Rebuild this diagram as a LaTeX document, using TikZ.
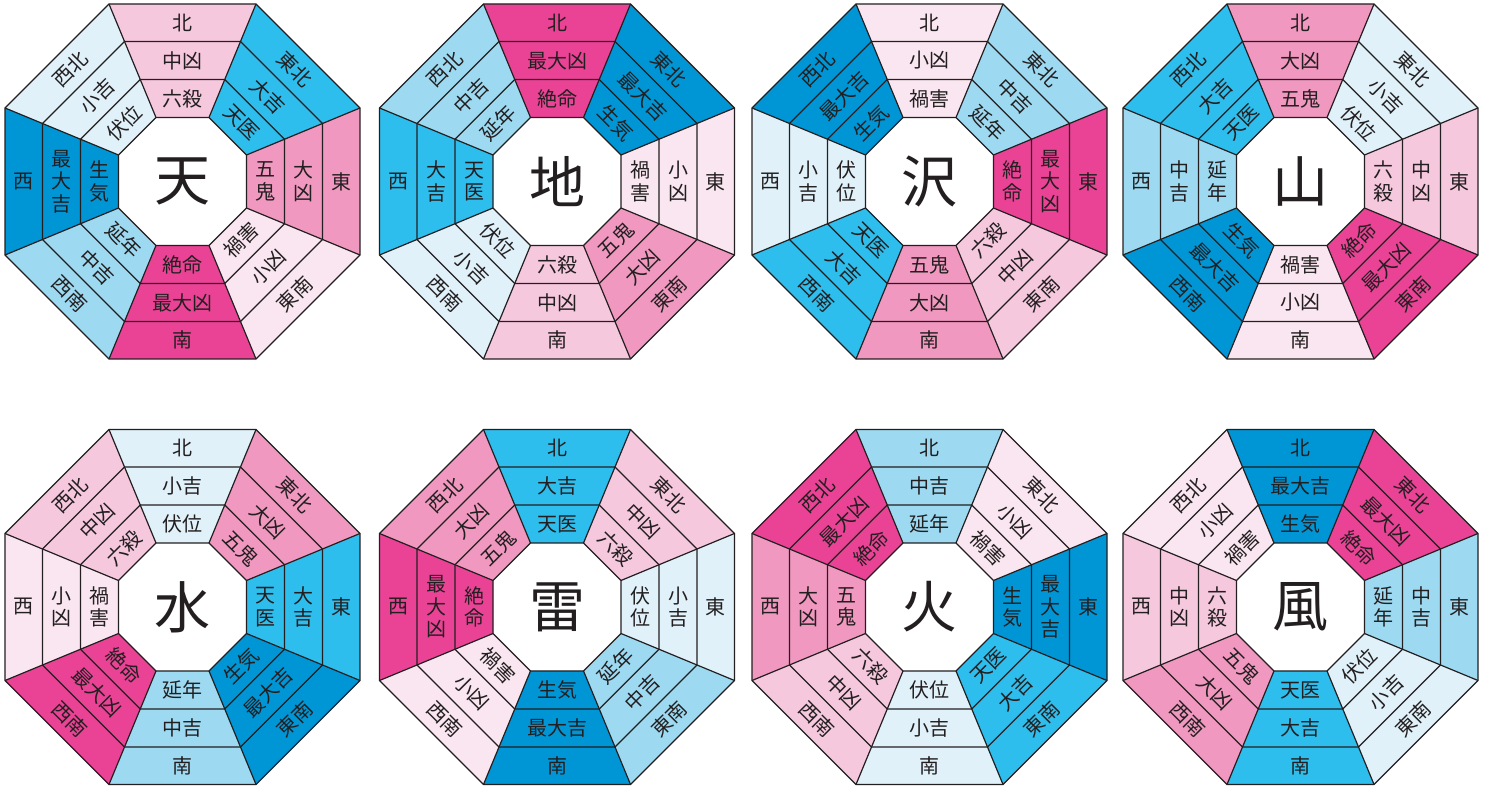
\documentclass[tikz,border=0pt]{standalone}
\usepackage{fontspec}
\setmainfont{Noto Sans CJK JP}
\definecolor{ink}{RGB}{35,31,32}
\definecolor{col1}{RGB}{0,150,214}
\definecolor{col2}{RGB}{46,190,237}
\definecolor{col3}{RGB}{157,218,242}
\definecolor{col4}{RGB}{224,241,249}
\definecolor{col5}{RGB}{249,230,240}
\definecolor{col6}{RGB}{246,200,222}
\definecolor{col7}{RGB}{240,152,191}
\definecolor{col8}{RGB}{234,67,150}
\def\defstar#1#2#3#4#5{%
  \expandafter\def\csname sh#1\endcsname{#2}%
  \expandafter\def\csname sv#1\endcsname{#3}%
  \expandafter\def\csname fh#1\endcsname{#4}%
  \expandafter\def\csname fv#1\endcsname{#5}}
\defstar{1}{生気}{生\\気}{最大吉}{最\\大\\吉}
\defstar{2}{天医}{天\\医}{大吉}{大\\吉}
\defstar{3}{延年}{延\\年}{中吉}{中\\吉}
\defstar{4}{伏位}{伏\\位}{小吉}{小\\吉}
\defstar{5}{禍害}{禍\\害}{小凶}{小\\凶}
\defstar{6}{六殺}{六\\殺}{中凶}{中\\凶}
\defstar{7}{五鬼}{五\\鬼}{大凶}{大\\凶}
\defstar{8}{絶命}{絶\\命}{最大凶}{最\\大\\凶}
\tikzset{
  seg/.style={line width=1.2pt, draw=ink, line join=miter},
  lbl/.style={font=\fontsize{20}{22.5}\selectfont, text=ink, align=center, inner sep=0pt},
  ctr/.style={font=\fontsize{56}{56}\selectfont, text=ink, inner sep=0pt},
}
\newcommand\bagua[5]{%
  \begin{scope}[shift={(#1,#2)}, name prefix=#5-]
    \foreach \k/\dn/\rot in {0/東/0,1/東北/-45,2/北/0,3/西北/45,4/西/0,5/西南/-45,6/南/0,7/東南/45}{%
      \pgfmathtruncatemacro\s{{#4}[\k]}%
      \pgfmathsetmacro\th{45*\k}%
      \ifnum\k=0 \def\vv{v}\else\ifnum\k=4 \def\vv{v}\else\def\vv{h}\fi\fi
      \fill[fill=col\s] (\th-22.5:69.273) -- (\th+22.5:69.273) -- (\th+22.5:192.125) -- (\th-22.5:192.125) -- cycle;
      \node[lbl, rotate=\rot] (d\k) at (\th:158.75) {\dn};
      \node[lbl, rotate=\rot] (f\k) at (\th:121) {\csname f\vv\s\endcsname};
      \node[lbl, rotate=\rot] (s\k) at (\th:83) {\csname s\vv\s\endcsname};
    }
    \foreach \r in {69.273,110.404,151.535,192.125}
      \draw[seg] (22.5:\r) -- (67.5:\r) -- (112.5:\r) -- (157.5:\r) -- (202.5:\r) -- (247.5:\r) -- (292.5:\r) -- (337.5:\r) -- cycle;
    \foreach \a in {22.5,67.5,...,337.5}
      \draw[seg] (\a:69.273) -- (\a:192.125);
    \node[ctr] (c) at (0,0) {#3};
  \end{scope}}
\begin{document}
\begin{tikzpicture}[x=1pt,y=1pt]
  \fill[white] (0,0) rectangle (1488,789);
  \useasboundingbox (0,0) rectangle (1488,789);
  \bagua{182.5}{607.5}{天}{7,2,6,4,1,3,8,5}{ten}
  \bagua{557}{607.5}{地}{5,1,8,3,2,4,6,7}{chi}
  \bagua{929.5}{607.5}{沢}{8,3,5,1,4,2,7,6}{taku}
  \bagua{1300.5}{607.5}{山}{6,4,7,2,3,1,5,8}{yama}
  \bagua{182.5}{182}{水}{2,7,4,6,5,8,3,1}{mizu}
  \bagua{557}{182}{雷}{4,6,2,7,8,5,1,3}{kami}
  \bagua{929.5}{182}{火}{1,5,3,8,7,6,4,2}{hi}
  \bagua{1300.5}{182}{風}{3,8,1,5,6,7,2,4}{kaze}
\end{tikzpicture}
\end{document}
